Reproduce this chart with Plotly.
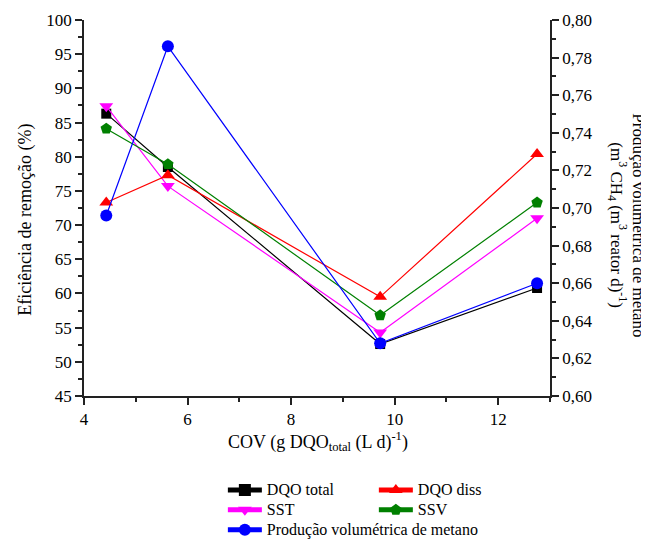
import plotly.graph_objects as go

cov = [4.43, 5.62, 9.72, 12.75]
dqo_total = [86.3, 78.5, 52.6, 60.8]
dqo_diss = [73.3, 77.3, 59.5, 80.4]
sst = [87.4, 75.7, 54.3, 71.0]
ssv = [84.1, 78.9, 56.8, 73.3]
metano = [0.696, 0.786, 0.628, 0.660]

FONT = "Liberation Serif, Times New Roman, serif"
fig = go.Figure()

def add(y, name, color, symbol, size, yaxis="y", legend="legend"):
    fig.add_trace(go.Scatter(
        x=cov, y=y, name='<span style="font-size:16px">' + name + '</span>',
        mode="lines+markers", yaxis=yaxis, legend=legend,
        line=dict(color=color, width=1.2),
        marker=dict(color=color, symbol=symbol, size=size, line=dict(width=0)),
    ))

add(dqo_total, "DQO total", "#000000", "square", 10, legend="legend")
add(sst, "SST", "#FF00FF", "triangle-down", 12, legend="legend")
add(metano, "Produção volumétrica de metano", "#0000FF", "circle", 12, yaxis="y2", legend="legend")
add(dqo_diss, "DQO diss", "#FF0000", "triangle-up", 12, legend="legend2")
add(ssv, "SSV", "#008000", "pentagon", 12, legend="legend2")

axcol = "#222222"
tickfont = dict(family=FONT, size=17, color="#000000")

fig.update_layout(
    width=649, height=539,
    margin=dict(l=76, r=107, t=12, b=151, autoexpand=False),
    paper_bgcolor="white", plot_bgcolor="white",
    separators=", ",
    font=dict(family=FONT, size=16, color="#000000"),
    showlegend=True,
    xaxis=dict(
        range=[4, 13], dtick=2, tick0=4, showgrid=False, zeroline=False,
        showline=True, linecolor=axcol, linewidth=1.5, automargin=False,
        ticks="outside", ticklen=7, tickwidth=1.5, tickcolor=axcol,
        tickfont=tickfont,
        minor=dict(dtick=1, ticks="outside", ticklen=4, tickwidth=1.5, tickcolor=axcol),
    ),
    xaxis2=dict(
        range=[4, 13], dtick=2, tick0=4, overlaying="x", side="top", anchor="y",
        showgrid=False, zeroline=False, showticklabels=False, automargin=False,
        showline=True, linecolor=axcol, linewidth=1.5,
        ticks="inside", ticklen=7, tickwidth=1.5, tickcolor=axcol,
        minor=dict(dtick=1, ticks="inside", ticklen=4, tickwidth=1.5, tickcolor=axcol),
    ),
    yaxis=dict(
        range=[45, 100], dtick=5, tick0=45, showgrid=False, zeroline=False,
        showline=True, linecolor=axcol, linewidth=1.5, automargin=False,
        ticks="outside", ticklen=7, tickwidth=1.5, tickcolor=axcol,
        tickfont=tickfont,
        minor=dict(dtick=2.5, ticks="outside", ticklen=4, tickwidth=1.5, tickcolor=axcol),
    ),
    yaxis2=dict(
        range=[0.6, 0.8], dtick=0.02, tick0=0.6, overlaying="y", side="right",
        showgrid=False, zeroline=False, tickformat=".2f", automargin=False,
        showline=True, linecolor=axcol, linewidth=1.5,
        ticks="outside", ticklen=7, tickwidth=1.5, tickcolor=axcol,
        tickfont=tickfont,
        minor=dict(dtick=0.01, ticks="outside", ticklen=4, tickwidth=1.5, tickcolor=axcol),
    ),
    legend=dict(
        x=0.298, y=-0.21, xanchor="left", yanchor="top",
        orientation="v", bgcolor="rgba(0,0,0,0)", borderwidth=0,
        font=dict(family=FONT, size=13), tracegroupgap=0,
        itemsizing="constant", itemwidth=34,
    ),
    legend2=dict(
        x=0.622, y=-0.21, xanchor="left", yanchor="top",
        orientation="v", bgcolor="rgba(0,0,0,0)", borderwidth=0,
        font=dict(family=FONT, size=13), tracegroupgap=0,
        itemsizing="constant", itemwidth=34,
    ),
    annotations=[
        dict(text="COV (g DQO<sub>total</sub> (L d)<sup>-1</sup>)",
             xref="paper", yref="paper", x=0.502, y=-0.12,
             xanchor="center", yanchor="middle", showarrow=False,
             font=dict(family=FONT, size=18)),
        dict(text="Eficiência de remoção (%)",
             xref="paper", yref="paper", x=-0.127, y=0.468, textangle=-90,
             xanchor="center", yanchor="middle", showarrow=False,
             font=dict(family=FONT, size=18)),
        dict(text="Produção volumétrica de metano",
             xref="paper", yref="paper", x=1.188, y=0.455, textangle=90,
             xanchor="center", yanchor="middle", showarrow=False,
             font=dict(family=FONT, size=17)),
        dict(text="(m<sup>3</sup> CH<sub>4</sub> (m<sup>3</sup> reator d)<sup>-1</sup>)",
             xref="paper", yref="paper", x=1.143, y=0.455, textangle=90,
             xanchor="center", yanchor="middle", showarrow=False,
             font=dict(family=FONT, size=17)),
    ],
)

fig.write_html("out.html")
